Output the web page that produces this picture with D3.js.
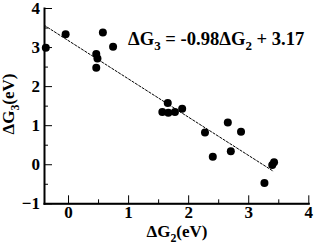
<!DOCTYPE html>
<html>
<head>
<meta charset="utf-8">
<script src="https://cdn.jsdelivr.net/npm/d3@7"></script>
<style>
  html, body { margin: 0; padding: 0; background: #fff; }
  svg { display: block; }
  svg text { font-family: "Liberation Serif", Tinos, "DejaVu Serif", serif !important; font-weight: bold; fill: #000; }
</style>
</head>
<body>
<svg id="chart" width="314" height="246"></svg>
<script>
// ---- data ----
const dG2 = [-0.37, -0.04, 0.58, 0.75, 0.47, 0.49, 0.47, 1.66, 1.57, 1.67, 1.78, 1.90, 2.28, 2.66, 2.88, 2.41, 2.71, 3.40, 3.43, 3.27];
const dG3 = [2.98, 3.33, 3.37, 3.01, 2.82, 2.71, 2.47, 1.57, 1.34, 1.32, 1.34, 1.42, 0.81, 1.07, 0.83, 0.19, 0.33, -0.02, 0.05, -0.48];
const fitSlope = -0.98;
const fitIntercept = 3.17;
const fitRange = [-0.4, 3.42];
const xMajor = [0, 1, 2, 3, 4];
const xMinor = [0.5, 1.5, 2.5, 3.5];
const yMajor = [-1, 0, 1, 2, 3, 4];
const yMinor = [-0.5, 0.5, 1.5, 2.5, 3.5];

const FONT = "'Liberation Serif', Tinos, 'DejaVu Serif', serif";
const svg = d3.select("#chart");
const x = d3.scaleLinear().domain([-0.4, 4]).range([44, 308.3]);
const y = d3.scaleLinear().domain([-1, 4]).range([203.3, 8]);

// fit line
const fitPts = fitRange.map(v => [v, fitSlope * v + fitIntercept]);
svg.append("path")
  .attr("d", d3.line().x(d => x(d[0])).y(d => y(d[1]))(fitPts))
  .attr("fill", "none").attr("stroke", "#000").attr("stroke-width", 1)
  .attr("stroke-dasharray", "3,1");

// points
svg.append("g").selectAll("circle").data(dG2.map((v, i) => [v, dG3[i]])).join("circle")
  .attr("cx", d => x(d[0])).attr("cy", d => y(d[1])).attr("r", 4).attr("fill", "#000");

// axes
const gx = svg.append("g").attr("transform", `translate(0,${y(-1)})`);
gx.call(d3.axisBottom(x).tickValues(xMinor).tickSizeInner(-4).tickSizeOuter(0).tickFormat(""));
const gx2 = svg.append("g").attr("transform", `translate(0,${y(-1)})`);
gx2.call(d3.axisBottom(x).tickValues(xMajor).tickSizeInner(-8).tickSizeOuter(0).tickPadding(3).tickFormat(d3.format("d")));
gx2.select(".domain").attr("stroke-width", 2);

const gy = svg.append("g").attr("transform", `translate(${x(-0.4)},0)`);
gy.call(d3.axisLeft(y).tickValues(yMinor).tickSizeInner(-4).tickSizeOuter(0).tickFormat(""));
const gy2 = svg.append("g").attr("transform", `translate(${x(-0.4)},0)`);
gy2.call(d3.axisLeft(y).tickValues(yMajor).tickSizeInner(-8).tickSizeOuter(0).tickPadding(4).tickFormat(d3.format("d")));
gy2.select(".domain").attr("stroke-width", 2);
svg.selectAll("g").attr("font-family", FONT).attr("font-size", 17);
svg.selectAll(".domain").attr("stroke-linecap", "square");

// labels
function label(sel, main, sub, rest, size) {
  sel.append("tspan").text(main);
  sel.append("tspan").attr("font-size", size * 0.7).attr("dy", size * 0.3).text(sub);
  sel.append("tspan").attr("dy", -size * 0.3).text(rest);
}
const xl = svg.append("text").attr("x", 177).attr("y", 237).attr("text-anchor", "middle")
  .attr("font-family", FONT).attr("font-size", 17);
label(xl, "ΔG", "2", "(eV)", 17);
const yl = svg.append("text").attr("transform", "translate(14,104) rotate(-90)").attr("text-anchor", "middle")
  .attr("font-family", FONT).attr("font-size", 17);
label(yl, "ΔG", "3", "(eV)", 17);

const eq = svg.append("text").attr("x", 128).attr("y", 45).attr("font-family", FONT).attr("font-size", 18.6);
eq.append("tspan").text("ΔG");
eq.append("tspan").attr("font-size", 13).attr("dy", 5).text("3");
eq.append("tspan").attr("dy", -5).text(` = ${fitSlope}ΔG`);
eq.append("tspan").attr("font-size", 13).attr("dy", 5).text("2");
eq.append("tspan").attr("dy", -5).text(` + ${fitIntercept}`);
</script>
</body>
</html>
